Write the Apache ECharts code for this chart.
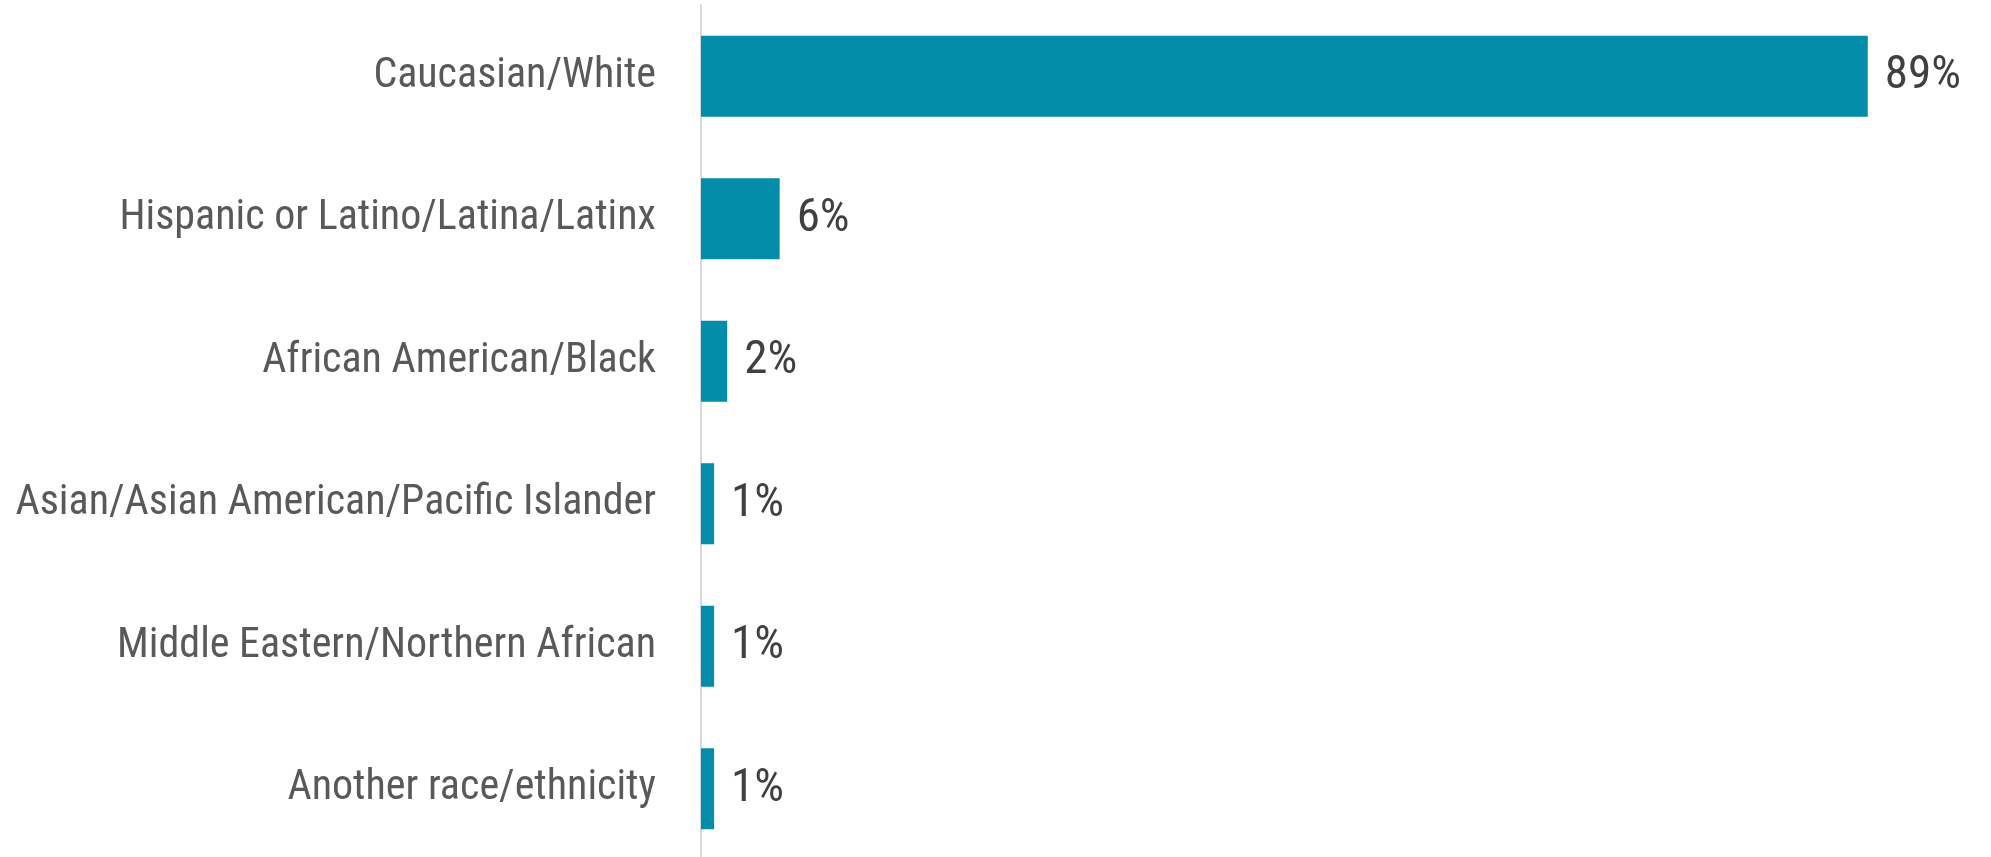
<!DOCTYPE html>
<html><head><meta charset="utf-8">
<script src="https://cdn.jsdelivr.net/npm/echarts@6/dist/echarts.min.js"></script>
<style>html,body{margin:0;padding:0;background:#fff}#c{width:1991px;height:857px}</style>
</head><body><div id="c"></div>
<script>
const categories = ["Caucasian/White","Hispanic or Latino/Latina/Latinx","African American/Black","Asian/Asian American/Pacific Islander","Middle Eastern/Northern African","Another race/ethnicity"];
const values = [89, 6, 2, 1, 1, 1];
const FONT = "'Liberation Sans Narrow','Arial Narrow','Roboto Condensed','Liberation Sans',sans-serif";
const chart = echarts.init(document.getElementById('c'));
chart.setOption({
  animation:false,
  grid:{left:701, top:5, width:1311, height:855, containLabel:false, outerBoundsMode:'none'},
  xAxis:{type:'value', min:0, max:100, show:false},
  yAxis:{type:'category', inverse:true, data:categories,
    axisLine:{show:true, lineStyle:{color:'#d9d9d9', width:2}},
    axisTick:{show:false},
    axisLabel:{color:'#595959', fontFamily:FONT, fontSize:42, margin:45}},
  series:[{type:'bar', data:values, barWidth:81,
    itemStyle:{color:'#028DAA'},
    label:{show:true, position:'right', distance:17, formatter:'{c}%', color:'#404040', fontFamily:FONT, fontSize:47}}]
});
</script></body></html>
